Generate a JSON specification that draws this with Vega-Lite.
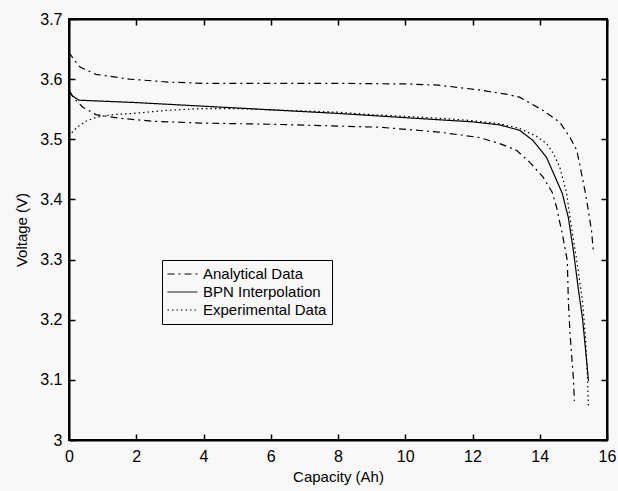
{
  "$schema": "https://vega.github.io/schema/vega-lite/v6.json",
  "width": 538,
  "height": 421,
  "autosize": {"type": "none"},
  "padding": {"left": 69, "top": 19, "right": 11, "bottom": 51},
  "background": "#f8f8f8",
  "config": {
    "view": {"stroke": "#000000", "strokeWidth": 2, "strokeOpacity": 1},
    "font": "Liberation Sans",
    "axis": {
      "grid": false,
      "domain": true,
      "domainColor": "#000000",
      "domainOpacity": 1,
      "domainWidth": 2,
      "ticks": true,
      "tickColor": "#000000",
      "tickOpacity": 1,
      "tickWidth": 1.5,
      "tickSize": -6,
      "labelColor": "black",
      "labelFontSize": 16,
      "labelFont": "Liberation Sans",
      "titleFont": "Liberation Sans",
      "titleFontSize": 15,
      "titleFontWeight": "normal",
      "titleColor": "black"
    }
  },
  "data": {
    "values": [
      {"cap": 0, "volt": 3.645, "curve": "A1", "series": "Analytical Data"},
      {"cap": 0.15, "volt": 3.632, "curve": "A1", "series": "Analytical Data"},
      {"cap": 0.33, "volt": 3.62, "curve": "A1", "series": "Analytical Data"},
      {"cap": 0.8, "volt": 3.608, "curve": "A1", "series": "Analytical Data"},
      {"cap": 1.8, "volt": 3.6, "curve": "A1", "series": "Analytical Data"},
      {"cap": 3, "volt": 3.595, "curve": "A1", "series": "Analytical Data"},
      {"cap": 4, "volt": 3.593, "curve": "A1", "series": "Analytical Data"},
      {"cap": 6, "volt": 3.593, "curve": "A1", "series": "Analytical Data"},
      {"cap": 8, "volt": 3.593, "curve": "A1", "series": "Analytical Data"},
      {"cap": 10, "volt": 3.592, "curve": "A1", "series": "Analytical Data"},
      {"cap": 11, "volt": 3.59, "curve": "A1", "series": "Analytical Data"},
      {"cap": 12.2, "volt": 3.582, "curve": "A1", "series": "Analytical Data"},
      {"cap": 13, "volt": 3.575, "curve": "A1", "series": "Analytical Data"},
      {"cap": 13.4, "volt": 3.57, "curve": "A1", "series": "Analytical Data"},
      {"cap": 14.1, "volt": 3.548, "curve": "A1", "series": "Analytical Data"},
      {"cap": 14.6, "volt": 3.528, "curve": "A1", "series": "Analytical Data"},
      {"cap": 14.9, "volt": 3.503, "curve": "A1", "series": "Analytical Data"},
      {"cap": 15.1, "volt": 3.482, "curve": "A1", "series": "Analytical Data"},
      {"cap": 15.2, "volt": 3.455, "curve": "A1", "series": "Analytical Data"},
      {"cap": 15.36, "volt": 3.41, "curve": "A1", "series": "Analytical Data"},
      {"cap": 15.45, "volt": 3.38, "curve": "A1", "series": "Analytical Data"},
      {"cap": 15.54, "volt": 3.348, "curve": "A1", "series": "Analytical Data"},
      {"cap": 15.6, "volt": 3.31, "curve": "A1", "series": "Analytical Data"},

      {"cap": 0, "volt": 3.58, "curve": "A2", "series": "Analytical Data"},
      {"cap": 0.2, "volt": 3.565, "curve": "A2", "series": "Analytical Data"},
      {"cap": 0.42, "volt": 3.553, "curve": "A2", "series": "Analytical Data"},
      {"cap": 0.8, "volt": 3.541, "curve": "A2", "series": "Analytical Data"},
      {"cap": 1.5, "volt": 3.535, "curve": "A2", "series": "Analytical Data"},
      {"cap": 2.5, "volt": 3.53, "curve": "A2", "series": "Analytical Data"},
      {"cap": 3.9, "volt": 3.527, "curve": "A2", "series": "Analytical Data"},
      {"cap": 6, "volt": 3.525, "curve": "A2", "series": "Analytical Data"},
      {"cap": 8, "volt": 3.522, "curve": "A2", "series": "Analytical Data"},
      {"cap": 9.26, "volt": 3.52, "curve": "A2", "series": "Analytical Data"},
      {"cap": 11, "volt": 3.512, "curve": "A2", "series": "Analytical Data"},
      {"cap": 12.2, "volt": 3.503, "curve": "A2", "series": "Analytical Data"},
      {"cap": 12.8, "volt": 3.493, "curve": "A2", "series": "Analytical Data"},
      {"cap": 13.3, "volt": 3.482, "curve": "A2", "series": "Analytical Data"},
      {"cap": 13.7, "volt": 3.462, "curve": "A2", "series": "Analytical Data"},
      {"cap": 14.1, "volt": 3.437, "curve": "A2", "series": "Analytical Data"},
      {"cap": 14.37, "volt": 3.412, "curve": "A2", "series": "Analytical Data"},
      {"cap": 14.5, "volt": 3.387, "curve": "A2", "series": "Analytical Data"},
      {"cap": 14.67, "volt": 3.343, "curve": "A2", "series": "Analytical Data"},
      {"cap": 14.82, "volt": 3.298, "curve": "A2", "series": "Analytical Data"},
      {"cap": 14.85, "volt": 3.232, "curve": "A2", "series": "Analytical Data"},
      {"cap": 14.9, "volt": 3.177, "curve": "A2", "series": "Analytical Data"},
      {"cap": 15.0, "volt": 3.103, "curve": "A2", "series": "Analytical Data"},
      {"cap": 15.03, "volt": 3.065, "curve": "A2", "series": "Analytical Data"},

      {"cap": 0, "volt": 3.582, "curve": "B", "series": "BPN Interpolation"},
      {"cap": 0.1, "volt": 3.572, "curve": "B", "series": "BPN Interpolation"},
      {"cap": 0.3, "volt": 3.565, "curve": "B", "series": "BPN Interpolation"},
      {"cap": 2, "volt": 3.561, "curve": "B", "series": "BPN Interpolation"},
      {"cap": 4, "volt": 3.555, "curve": "B", "series": "BPN Interpolation"},
      {"cap": 6, "volt": 3.549, "curve": "B", "series": "BPN Interpolation"},
      {"cap": 8, "volt": 3.543, "curve": "B", "series": "BPN Interpolation"},
      {"cap": 10, "volt": 3.536, "curve": "B", "series": "BPN Interpolation"},
      {"cap": 12, "volt": 3.529, "curve": "B", "series": "BPN Interpolation"},
      {"cap": 12.8, "volt": 3.524, "curve": "B", "series": "BPN Interpolation"},
      {"cap": 13.4, "volt": 3.515, "curve": "B", "series": "BPN Interpolation"},
      {"cap": 13.8, "volt": 3.498, "curve": "B", "series": "BPN Interpolation"},
      {"cap": 14.2, "volt": 3.47, "curve": "B", "series": "BPN Interpolation"},
      {"cap": 14.5, "volt": 3.432, "curve": "B", "series": "BPN Interpolation"},
      {"cap": 14.67, "volt": 3.41, "curve": "B", "series": "BPN Interpolation"},
      {"cap": 14.85, "volt": 3.37, "curve": "B", "series": "BPN Interpolation"},
      {"cap": 15.0, "volt": 3.315, "curve": "B", "series": "BPN Interpolation"},
      {"cap": 15.15, "volt": 3.25, "curve": "B", "series": "BPN Interpolation"},
      {"cap": 15.27, "volt": 3.203, "curve": "B", "series": "BPN Interpolation"},
      {"cap": 15.38, "volt": 3.14, "curve": "B", "series": "BPN Interpolation"},
      {"cap": 15.45, "volt": 3.098, "curve": "B", "series": "BPN Interpolation"},

      {"cap": 0, "volt": 3.505, "curve": "E", "series": "Experimental Data"},
      {"cap": 0.1, "volt": 3.512, "curve": "E", "series": "Experimental Data"},
      {"cap": 0.24, "volt": 3.52, "curve": "E", "series": "Experimental Data"},
      {"cap": 0.5, "volt": 3.53, "curve": "E", "series": "Experimental Data"},
      {"cap": 0.83, "volt": 3.537, "curve": "E", "series": "Experimental Data"},
      {"cap": 1.3, "volt": 3.541, "curve": "E", "series": "Experimental Data"},
      {"cap": 1.9, "volt": 3.543, "curve": "E", "series": "Experimental Data"},
      {"cap": 2.9, "volt": 3.548, "curve": "E", "series": "Experimental Data"},
      {"cap": 3.9, "volt": 3.551, "curve": "E", "series": "Experimental Data"},
      {"cap": 5, "volt": 3.551, "curve": "E", "series": "Experimental Data"},
      {"cap": 6, "volt": 3.549, "curve": "E", "series": "Experimental Data"},
      {"cap": 7, "volt": 3.547, "curve": "E", "series": "Experimental Data"},
      {"cap": 8, "volt": 3.545, "curve": "E", "series": "Experimental Data"},
      {"cap": 9, "volt": 3.541, "curve": "E", "series": "Experimental Data"},
      {"cap": 10, "volt": 3.538, "curve": "E", "series": "Experimental Data"},
      {"cap": 11, "volt": 3.535, "curve": "E", "series": "Experimental Data"},
      {"cap": 12, "volt": 3.531, "curve": "E", "series": "Experimental Data"},
      {"cap": 12.8, "volt": 3.526, "curve": "E", "series": "Experimental Data"},
      {"cap": 13.4, "volt": 3.518, "curve": "E", "series": "Experimental Data"},
      {"cap": 13.9, "volt": 3.505, "curve": "E", "series": "Experimental Data"},
      {"cap": 14.2, "volt": 3.493, "curve": "E", "series": "Experimental Data"},
      {"cap": 14.4, "volt": 3.477, "curve": "E", "series": "Experimental Data"},
      {"cap": 14.6, "volt": 3.453, "curve": "E", "series": "Experimental Data"},
      {"cap": 14.8, "volt": 3.41, "curve": "E", "series": "Experimental Data"},
      {"cap": 14.9, "volt": 3.37, "curve": "E", "series": "Experimental Data"},
      {"cap": 15.1, "volt": 3.298, "curve": "E", "series": "Experimental Data"},
      {"cap": 15.27, "volt": 3.232, "curve": "E", "series": "Experimental Data"},
      {"cap": 15.36, "volt": 3.17, "curve": "E", "series": "Experimental Data"},
      {"cap": 15.42, "volt": 3.103, "curve": "E", "series": "Experimental Data"},
      {"cap": 15.45, "volt": 3.053, "curve": "E", "series": "Experimental Data"}
    ]
  },
  "resolve": {"axis": {"x": "independent", "y": "independent"}},
  "layer": [
    {
      "mark": {"type": "line", "color": "black", "strokeWidth": 1.2, "clip": true},
      "encoding": {
        "x": {
          "field": "cap", "type": "quantitative",
          "scale": {"domain": [0, 16], "nice": false, "zero": false},
          "axis": {"title": "Capacity (Ah)", "values": [0, 2, 4, 6, 8, 10, 12, 14, 16], "labelPadding": 14, "titlePadding": 5, "labelFlush": false}
        },
        "y": {
          "field": "volt", "type": "quantitative",
          "scale": {"domain": [3, 3.7], "nice": false, "zero": false},
          "axis": {"title": "Voltage (V)", "values": [3, 3.1, 3.2, 3.3, 3.4, 3.5, 3.6, 3.7], "format": ".1~f", "labelPadding": 13, "titlePadding": 10, "labelFlush": false}
        },
        "detail": {"field": "curve"},
        "order": {"field": "cap", "type": "quantitative"},
        "strokeDash": {
          "field": "series", "type": "nominal",
          "scale": {
            "domain": ["Analytical Data", "BPN Interpolation", "Experimental Data"],
            "range": [[7, 4, 2, 4], [1, 0], [1.5, 3]]
          },
          "legend": {
            "title": null,
            "orient": "none",
            "legendX": 93,
            "legendY": 241,
            "strokeColor": "black",
            "padding": 5,
            "symbolType": "stroke",
            "symbolSize": 900,
            "symbolStrokeColor": "black",
            "symbolStrokeWidth": 1,
            "clipHeight": 18,
            "rowPadding": 0,
            "labelFontSize": 15,
            "labelFont": "Liberation Sans",
            "labelColor": "black",
            "labelOffset": 5
          }
        }
      }
    },
    {
      "mark": {"type": "line", "opacity": 0},
      "encoding": {
        "x": {
          "field": "cap", "type": "quantitative",
          "axis": {"orient": "top", "title": null, "labels": false, "domain": true, "values": [0, 2, 4, 6, 8, 10, 12, 14, 16]}
        },
        "y": {
          "field": "volt", "type": "quantitative",
          "axis": {"orient": "right", "title": null, "labels": false, "domain": true, "values": [3, 3.1, 3.2, 3.3, 3.4, 3.5, 3.6, 3.7]}
        },
        "detail": {"field": "curve"}
      }
    }
  ]
}
